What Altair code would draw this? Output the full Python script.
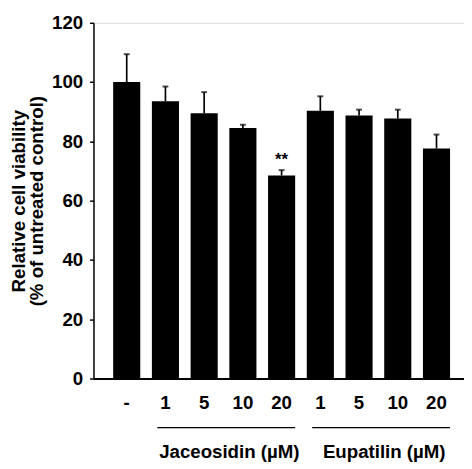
import altair as alt
import pandas as pd

# ---- data ----
groups = ["ctrl", "Jaceosidin", "Jaceosidin", "Jaceosidin", "Jaceosidin",
          "Eupatilin", "Eupatilin", "Eupatilin", "Eupatilin"]
doses = ["-", "1", "5", "10", "20", "1", "5", "10", "20"]
means = [100.0, 93.5, 89.5, 84.5, 68.5, 90.3, 88.7, 87.7, 77.6]
errors = [9.4, 5.0, 7.1, 1.1, 1.8, 4.9, 2.0, 3.0, 4.7]
marks = ["", "", "", "", "**", "", "", "", ""]

group_names = ["Jaceosidin (µM)", "Eupatilin (µM)"]
group_start = ["Jaceosidin|1", "Eupatilin|1"]
group_end = ["Jaceosidin|20", "Eupatilin|20"]
group_mid = ["Jaceosidin|10", "Eupatilin|10"]

y_ticks = [0, 20, 40, 60, 80, 100, 120]

keys = [f"{g}|{d}" for g, d in zip(groups, doses)]
df = pd.DataFrame({
    "key": keys,
    "mean": means,
    "upper": [m + e for m, e in zip(means, errors)],
    "mark": marks,
})
gdf = pd.DataFrame({"name": group_names, "start": group_start,
                    "end": group_end, "mid": group_mid})

FONT = "Liberation Sans"
FS = 19

xscale = alt.Scale(domain=keys, paddingInner=0.3, paddingOuter=0.434, align=0.585)
yscale = alt.Scale(domain=[0, 120], nice=False)

x = alt.X("key:N", scale=xscale, sort=keys, title=None,
          axis=alt.Axis(labelExpr="split(datum.value, '|')[1]", labelAngle=0,
                        ticks=False, tickSize=0, labelPadding=15,
                        domainColor="black", domainWidth=2,
                        labelFont=FONT, labelFontSize=FS, labelFontWeight="bold",
                        labelColor="black"))
y = alt.Y("mean:Q", scale=yscale,
          title=["Relative cell viability", "(% of untreated control)"],
          axis=alt.Axis(values=y_ticks, grid=False, tickSize=4, tickWidth=1.5,
                        tickColor="black", domainColor="black", domainWidth=1.5,
                        labelPadding=7, labelFont=FONT, labelFontSize=FS,
                        labelFontWeight="bold", labelColor="black",
                        titleFont=FONT, titleFontSize=FS, titleFontWeight="bold",
                        titleColor="black", titleLineHeight=19, titlePadding=5))

base = alt.Chart(df)
bars = base.mark_bar(color="black").encode(x=x, y=y)
err = base.mark_rule(color="black", strokeWidth=1.7).encode(
    x=alt.X("key:N", scale=xscale, sort=keys),
    y=alt.Y("mean:Q", scale=yscale),
    y2="upper:Q")
caps = base.mark_tick(color="black", orient="horizontal", size=6, thickness=2).encode(
    x=alt.X("key:N", scale=xscale, sort=keys),
    y=alt.Y("upper:Q", scale=yscale))
stars = base.mark_text(font=FONT, fontSize=17, fontWeight="bold", color="black",
                       baseline="alphabetic", dy=-5).encode(
    x=alt.X("key:N", scale=xscale, sort=keys),
    y=alt.Y("upper:Q", scale=yscale),
    text="mark:N")

glines = alt.Chart(gdf).mark_rule(color="black", strokeWidth=1.3).encode(
    x=alt.X("start:N", scale=xscale, sort=keys, bandPosition=0.2),
    x2=alt.X2("end:N", bandPosition=1),
    y=alt.value(412))
gtext = alt.Chart(gdf).mark_text(font=FONT, fontSize=FS, fontWeight="bold",
                                 color="black", baseline="middle", align="center").encode(
    x=alt.X("mid:N", scale=xscale, sort=keys, bandPosition=0),
    y=alt.value(437),
    text="name:N")

chart = alt.layer(bars, err, caps, stars, glines, gtext).properties(
    width=377, height=362,
    autosize=alt.AutoSizeParams(type="none"),
    padding={"left": 87, "top": 11, "right": 0, "bottom": 88},
).configure_view(stroke=None).configure(background="white")

chart.save("out.html", embed_options={"renderer": "svg", "actions": False})
